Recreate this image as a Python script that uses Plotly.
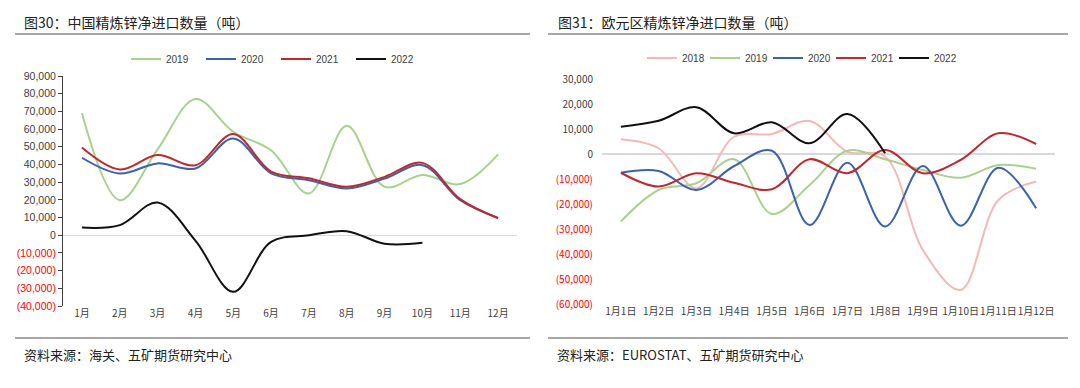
import plotly.graph_objects as go

# ---------------- data ----------------
months_cn = ["1月", "2月", "3月", "4月", "5月", "6月", "7月", "8月", "9月", "10月", "11月", "12月"]
cn_2019 = [68900, 19800, 48500, 77000, 58500, 48000, 23600, 61900, 27400, 34000, 28900, 45700]
cn_2020 = [43800, 34900, 40600, 37700, 54700, 35000, 31100, 26400, 32000, 39600, 19800, 9800]
cn_2021 = [49600, 37200, 45300, 39600, 57200, 36000, 32200, 27400, 33000, 40900, 20400, 9600]
cn_2022 = [4300, 5700, 18500, -3000, -32000, -3800, 0, 2300, -4800, -4300]

months_eu = ["1月1日", "1月2日", "1月3日", "1月4日", "1月5日", "1月6日",
             "1月7日", "1月8日", "1月9日", "1月10日", "1月11日", "1月12日"]
eu_2018 = [5900, 2300, -13700, 6900, 8000, 13200, 900, -1000, -38400, -54400, -18400, -11000]
eu_2019 = [-27000, -14400, -11700, -2100, -24000, -12400, 1300, -2100, -6400, -9500, -4400, -5900]
eu_2020 = [-7500, -6800, -14400, -4800, 1300, -28400, -3500, -29000, -4800, -28700, -5500, -21700]
eu_2021 = [-7500, -13000, -7700, -11500, -14100, -2100, -7700, 1600, -7700, -2400, 8300, 4000]
eu_2022 = [10900, 13300, 18700, 8300, 12700, 4300, 16000, 300]

cn_ticks = [90000, 80000, 70000, 60000, 50000, 40000, 30000, 20000, 10000, 0,
            -10000, -20000, -30000, -40000]
eu_ticks = [30000, 20000, 10000, 0, -10000, -20000, -30000, -40000, -50000, -60000]

# ---------------- helpers ----------------
W, H = 1080, 388
def px(x):
    return x / W
def py(y):
    return 1 - y / H

def fmt(v):
    if v < 0:
        return "<span style='color:#ff0000'>(" + f"{-v:,}" + ")</span>"
    return f"{v:,}"

C_GREEN = "#a9d18e"
C_BLUE = "#3a62ad"
C_RED = "#c0282f"
C_BLACK = "#111111"
C_PINK = "#f4b8b8"

fig = go.Figure()

def add(x, y, name, color, xa, ya, legend, width=2):
    fig.add_trace(go.Scatter(
        x=x[:len(y)], y=y, name=name, mode="lines",
        line=dict(color=color, width=width, shape="spline", smoothing=1.0),
        xaxis=xa, yaxis=ya, legend=legend, hoverinfo="x+y+name"))

add(months_cn, cn_2019, "2019", C_GREEN, "x", "y", "legend")
add(months_cn, cn_2020, "2020", C_BLUE, "x", "y", "legend")
add(months_cn, cn_2021, "2021", C_RED, "x", "y", "legend")
add(months_cn, cn_2022, "2022", C_BLACK, "x", "y", "legend")

add(months_eu, eu_2018, "2018", C_PINK, "x2", "y2", "legend2")
add(months_eu, eu_2019, "2019", C_GREEN, "x2", "y2", "legend2")
add(months_eu, eu_2020, "2020", C_BLUE, "x2", "y2", "legend2")
add(months_eu, eu_2021, "2021", C_RED, "x2", "y2", "legend2")
add(months_eu, eu_2022, "2022", C_BLACK, "x2", "y2", "legend2")

tick_font_l = dict(family="Liberation Sans", size=10.5, color="#404040")
tick_font_r = dict(family="Noto Sans CJK SC", size=10, color="#404040")

fig.update_layout(
    width=W, height=H,
    margin=dict(l=0, r=0, t=0, b=0, autoexpand=False),
    paper_bgcolor="white", plot_bgcolor="white",
    showlegend=True,
    xaxis=dict(domain=[px(63), px(517)], range=[-0.5, 11.5], type="category",
               categoryorder="array", categoryarray=months_cn,
               showgrid=False, zeroline=False, showline=False, ticks="",
               tickangle=0, automargin=False,
               tickfont=dict(family="Noto Sans CJK SC", size=10, color="#404040"),
               anchor="y"),
    yaxis=dict(domain=[py(306), py(76)], range=[-40000, 90000],
               tickvals=cn_ticks, ticktext=[fmt(v) for v in cn_ticks],
               showgrid=False, zeroline=True, zerolinecolor="#d9d9d9", zerolinewidth=1,
               showline=True, linecolor="#404040", linewidth=1,
               ticks="outside", ticklen=4, tickcolor="#404040", automargin=False,
               tickfont=tick_font_l, anchor="x"),
    xaxis2=dict(domain=[px(602), px(1055)], range=[-0.5, 11.5], type="category",
                categoryorder="array", categoryarray=months_eu,
                showgrid=False, zeroline=False, showline=False, ticks="",
                tickangle=0, automargin=False,
                tickfont=dict(family="Noto Sans CJK SC", size=10, color="#404040"),
                anchor="y2"),
    yaxis2=dict(domain=[py(304), py(79)], range=[-60000, 30000],
                tickvals=eu_ticks, ticktext=[fmt(v) for v in eu_ticks],
                showgrid=False, zeroline=True, zerolinecolor="#d9d9d9", zerolinewidth=2,
                showline=False, ticks="", automargin=False, ticklabelstandoff=8,
                tickfont=tick_font_r, anchor="x2"),
    legend=dict(orientation="h", x=px(126), y=py(59), xanchor="left", yanchor="middle",
                entrywidth=30, entrywidthmode="pixels", itemwidth=30,
                font=dict(family="Liberation Sans", size=10, color="#404040"),
                bgcolor="rgba(0,0,0,0)", tracegroupgap=0),
    legend2=dict(orientation="h", x=px(642), y=py(58), xanchor="left", yanchor="middle",
                 entrywidth=18, entrywidthmode="pixels", itemwidth=30,
                 font=dict(family="Liberation Sans", size=10, color="#404040"),
                 bgcolor="rgba(0,0,0,0)", tracegroupgap=0),
    font=dict(family="Noto Sans CJK SC"),
)

# title underline and bottom rules
for x0, x1 in [(15, 530), (548, 1068)]:
    fig.add_shape(type="line", xref="paper", yref="paper",
                  x0=px(x0), x1=px(x1), y0=py(34), y1=py(34),
                  line=dict(color="#a6a6a6", width=2))
    fig.add_shape(type="line", xref="paper", yref="paper",
                  x0=px(x0), x1=px(x1), y0=py(338), y1=py(338),
                  line=dict(color="#a6a6a6", width=2))

title_font = dict(family="Noto Sans CJK SC", size=14, color="#222222")
src_font = dict(family="Noto Sans CJK SC", size=13, color="#222222")
fig.add_annotation(text="图30：中国精炼锌净进口数量（吨）", x=px(22), y=py(22),
                   xref="paper", yref="paper", xanchor="left", yanchor="middle",
                   showarrow=False, font=title_font)
fig.add_annotation(text="图31：欧元区精炼锌净进口数量（吨）", x=px(556), y=py(22),
                   xref="paper", yref="paper", xanchor="left", yanchor="middle",
                   showarrow=False, font=title_font)
fig.add_annotation(text="资料来源：海关、五矿期货研究中心", x=px(22), y=py(354),
                   xref="paper", yref="paper", xanchor="left", yanchor="middle",
                   showarrow=False, font=src_font)
fig.add_annotation(text="资料来源：EUROSTAT、五矿期货研究中心", x=px(555), y=py(354),
                   xref="paper", yref="paper", xanchor="left", yanchor="middle",
                   showarrow=False, font=src_font)

fig.write_html("out.html", config={"displayModeBar": False},
               post_script="document.body.style.margin='0px';")
